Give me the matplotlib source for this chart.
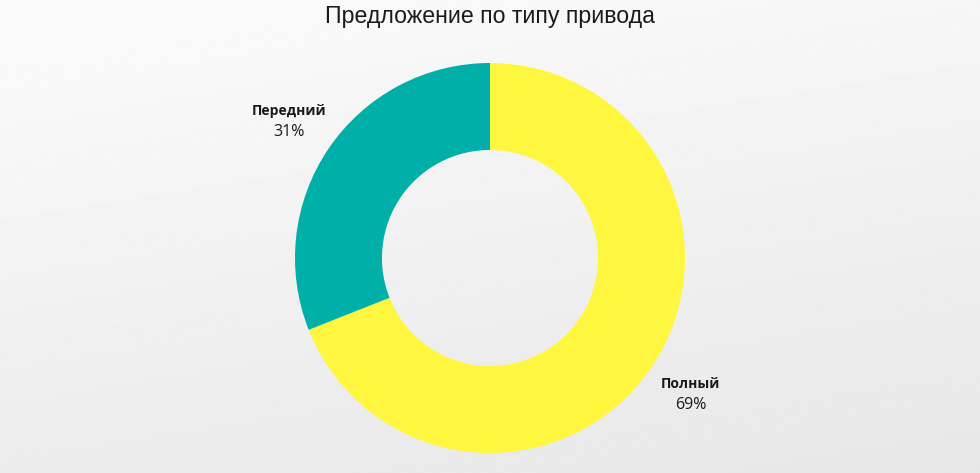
import numpy as np
import matplotlib
matplotlib.use("Agg")
import matplotlib.pyplot as plt

title = "Предложение по типу привода"
categories = ["Полный", "Передний"]
values = [69, 31]
colors = ["#FFF73F", "#00AFA8"]

W, H = 980, 473
fig = plt.figure(figsize=(W / 100, H / 100), dpi=100)

# background: light gray gradient (marble-like paper)
bg = fig.add_axes([0, 0, 1, 1])
yy, xx = np.mgrid[0:1:200j, 0:1:400j]
shade = 0.985 - 0.08 * (0.75 * yy + 0.25 * xx)
bg.imshow(shade, cmap="gray", vmin=0, vmax=1, aspect="auto", extent=[0, 1, 0, 1])
bg.set_axis_off()

cx, cy, r = 490, 258, 195
ax = fig.add_axes([(cx - r) / W, (H - cy - r) / H, 2 * r / W, 2 * r / H])
ax.set_axis_off()
wedges, _ = ax.pie(values, colors=colors, startangle=90, counterclock=False,
                   radius=1.0, wedgeprops=dict(width=0.446, linewidth=0))
ax.set_xlim(-1, 1)
ax.set_ylim(-1, 1)

total = sum(values)
for w, cat, v in zip(wedges, categories, values):
    ang = np.deg2rad((w.theta1 + w.theta2) / 2)
    x, y = 1.245 * np.cos(ang), 1.245 * np.sin(ang)
    ax.annotate(cat, (x, y), xytext=(0, 7.5), textcoords="offset points",
                ha="center", va="center", fontsize=10, fontweight="bold",
                family="Open Sans", color="#1a1a1a", annotation_clip=False)
    ax.annotate(f"{round(100 * v / total)}%", (x, y), xytext=(0, -7.5),
                textcoords="offset points", ha="center", va="center",
                fontsize=11.5, family="Open Sans", color="#1a1a1a",
                annotation_clip=False)

fig.text(0.5, 1 - 17 / H, title, ha="center", va="center", fontsize=16.7,
         family="Liberation Sans", color="#1a1a1a")

fig.savefig("out.png", dpi=100)
